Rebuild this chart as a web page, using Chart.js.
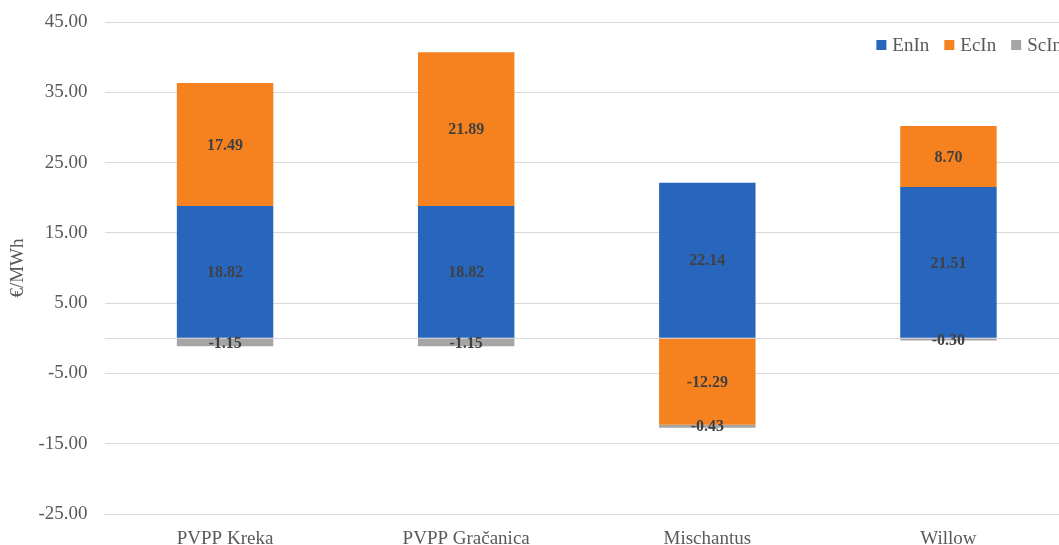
<!DOCTYPE html>
<html>
<head>
<meta charset="utf-8">
<script src="https://cdn.jsdelivr.net/npm/chart.js@4/dist/chart.umd.min.js"></script>
<style>
  html, body { margin: 0; padding: 0; background: #fff; }
  #wrap { width: 1059px; height: 545px; overflow: hidden; }
</style>
</head>
<body>
<div id="wrap"><canvas id="impacts" width="1069" height="545"></canvas></div>
<script>
// cost components per plant, in €/MWh
const categories = ['PVPP Kreka', 'PVPP Gračanica', 'Mischantus', 'Willow'];
const enIn = [18.82, 18.82, 22.14, 21.51];
const ecIn = [17.49, 21.89, -12.29, 8.70];
const scIn = [-1.15, -1.15, -0.43, -0.30];
const yTicks = [-25, -15, -5, 5, 15, 25, 35, 45];

const serif = '"Liberation Serif", "Times New Roman", serif';

// writes each segment's value in the middle of its bar
const barValues = {
  id: 'barValues',
  afterDatasetsDraw(chart) {
    const ctx = chart.ctx;
    ctx.save();
    ctx.font = 'bold 16px ' + serif;
    ctx.fillStyle = '#404040';
    ctx.textAlign = 'center';
    ctx.textBaseline = 'middle';
    chart.data.datasets.forEach((ds, i) => {
      const meta = chart.getDatasetMeta(i);
      meta.data.forEach((bar, j) => {
        const p = bar.getCenterPoint();
        ctx.fillText(ds.data[j].toFixed(2), p.x, p.y + 1);
      });
    });
    ctx.restore();
  }
};

// one-row legend in the top right corner of the plot
const cornerLegend = {
  id: 'cornerLegend',
  afterDraw(chart) {
    const ctx = chart.ctx;
    const area = chart.chartArea;
    const box = 10, gap = 6, spacing = 15;
    ctx.save();
    ctx.font = '19px ' + serif;
    ctx.textBaseline = 'middle';
    const items = chart.data.datasets.map(ds => ({
      label: ds.label, color: ds.backgroundColor, w: ctx.measureText(ds.label).width
    }));
    const total = items.reduce((s, it) => s + box + gap + it.w, 0) + spacing * (items.length - 1);
    let x = area.right - 7 - total;
    const y = area.top + 23;
    items.forEach(it => {
      ctx.fillStyle = it.color;
      ctx.fillRect(x, y - box / 2, box, box);
      x += box + gap;
      ctx.fillStyle = '#595959';
      ctx.fillText(it.label, x, y + 1);
      x += it.w + spacing;
    });
    ctx.restore();
  }
};

Chart.defaults.font.family = serif;

new Chart(document.getElementById('impacts').getContext('2d'), {
  type: 'bar',
  data: {
    labels: categories,
    datasets: [
      { label: 'EnIn', data: enIn, backgroundColor: '#2866be' },
      { label: 'EcIn', data: ecIn, backgroundColor: '#f5821f' },
      { label: 'ScIn', data: scIn, backgroundColor: '#a5a5a5' }
    ]
  },
  options: {
    responsive: false,
    animation: false,
    devicePixelRatio: 1,
    layout: { padding: { top: 22, right: 0, bottom: 0, left: 0 } },
    datasets: { bar: { categoryPercentage: 0.4, barPercentage: 1, borderWidth: 0 } },
    plugins: {
      tooltip: { enabled: false },
      legend: { display: false }
    },
    scales: {
      x: {
        stacked: true,
        grid: { display: false, drawTicks: false },
        border: { display: true, color: '#d9d9d9' },
        ticks: { color: '#595959', padding: 14, font: { size: 19, family: serif } },
        afterFit(scale) { scale.height = 31; }
      },
      y: {
        stacked: true,
        min: -25,
        max: 45,
        grid: { color: '#d9d9d9', lineWidth: 1, drawTicks: false },
        border: { display: false },
        title: {
          display: true,
          text: '€/MWh',
          color: '#595959',
          padding: { top: 7, bottom: 0 },
          font: { size: 19, family: serif }
        },
        ticks: {
          autoSkip: false,
          padding: 17,
          color: '#595959',
          font: { size: 19, family: serif },
          callback: v => (v === 0 ? '' : v.toFixed(2))
        },
        // labelled ticks plus an unlabelled zero line
        afterBuildTicks(scale) {
          scale.ticks = yTicks.concat([0]).sort((a, b) => a - b).map(v => ({ value: v }));
        },
        afterFit(scale) {
          scale.width = 104.5;
          scale.paddingTop = 0;
          scale.paddingBottom = 0;
        }
      }
    }
  },
  plugins: [barValues, cornerLegend]
});
</script>
</body>
</html>
